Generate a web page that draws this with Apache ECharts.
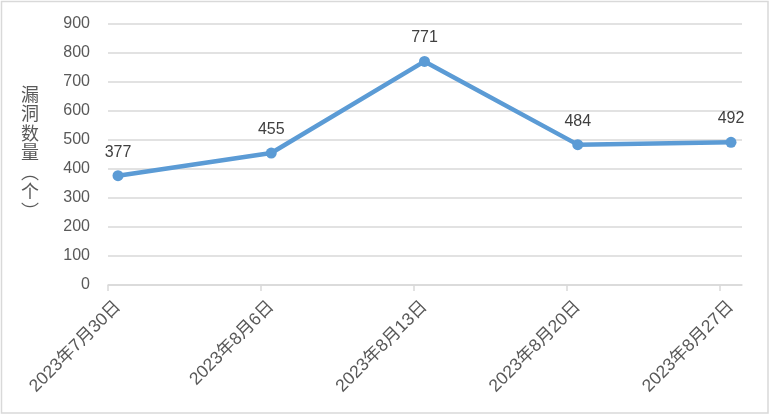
<!DOCTYPE html>
<html>
<head>
<meta charset="utf-8">
<script src="https://cdn.jsdelivr.net/npm/echarts@6/dist/echarts.min.js"></script>
<style>
html,body{margin:0;padding:0;background:#fff;}
#chart{width:771px;height:415px;}
</style>
</head>
<body>
<div id="chart"></div>
<script>
const categories = ['2023年7月30日', '2023年8月6日', '2023年8月13日', '2023年8月20日', '2023年8月27日'];
const values = [377, 455, 771, 484, 492];
const yTicks = [0, 100, 200, 300, 400, 500, 600, 700, 800, 900];
const yAxisName = '漏\n洞\n数\n量\n︵\n个\n︶';

const FONT = '"Liberation Sans", "Noto Sans CJK SC", sans-serif';
const points = values.map((v, i) => [i, v]);
const xMin = -0.0653, xMax = 4.0718;
const tickPos = [xMin, 0.933, 1.931, 2.93, 3.928];

const chart = echarts.init(document.getElementById('chart'), null, {renderer: 'canvas'});
chart.setOption({
  backgroundColor: '#ffffff',
  animation: false,
  graphic: [{
    type: 'rect', silent: true, z: -1,
    shape: {x: 1.5, y: 1.5, width: 766.5, height: 411.5},
    style: {fill: null, stroke: '#d9d9d9', lineWidth: 1.5}
  }],
  grid: {left: 108, right: 29, top: 24, bottom: 130, containLabel: false},
  xAxis: {
    type: 'value', min: xMin, max: xMax,
    axisLine: {show: true, lineStyle: {color: '#d9d9d9', width: 1.5}},
    axisTick: {show: true, length: 6, customValues: tickPos, lineStyle: {color: '#d9d9d9', width: 1.5}},
    splitLine: {show: false},
    axisLabel: {
      customValues: categories.map((c, i) => i),
      formatter: v => categories[Math.round(v)] || '',
      rotate: 45, margin: 19, color: '#595959', fontSize: 17.5, fontFamily: FONT
    }
  },
  yAxis: {
    type: 'value', min: yTicks[0], max: yTicks[yTicks.length - 1], interval: 100,
    name: yAxisName, nameLocation: 'middle', nameRotate: 0, nameGap: 78,
    nameTextStyle: {color: '#595959', fontSize: 18, lineHeight: 19.5, align: 'center', verticalAlign: 'middle', fontFamily: FONT},
    axisLine: {show: false}, axisTick: {show: false},
    splitLine: {lineStyle: {color: '#d9d9d9', width: 1.5}},
    axisLabel: {color: '#595959', fontSize: 16, margin: 18, fontFamily: FONT}
  },
  series: [{
    type: 'line', data: points,
    symbol: 'circle', symbolSize: 11,
    lineStyle: {color: '#5b9bd5', width: 4.5},
    itemStyle: {color: '#5b9bd5'},
    label: {show: true, position: 'top', distance: 10, color: '#404040', fontSize: 16, fontFamily: FONT,
      formatter: p => p.value[1]}
  }]
});
</script>
</body>
</html>
